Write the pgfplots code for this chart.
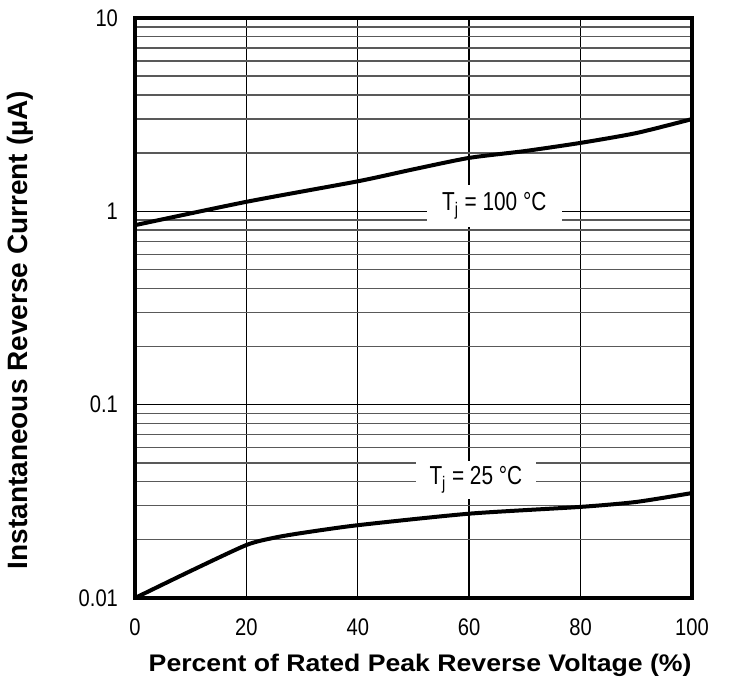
\documentclass[border=0pt]{standalone}
\usepackage{pgfplots}
\pgfplotsset{compat=1.18}
\usepackage{fontspec}
\setmainfont{Liberation Sans}
\newcommand{\nt}[1]{\scalebox{0.84}[1]{#1}}
\begin{document}
\begin{tikzpicture}
\useasboundingbox (-67.5pt,-48.5pt) rectangle (297pt,299pt);
\begin{axis}[
  at={(0,0)}, anchor=south west,
  scale only axis, width=278.5pt, height=290pt,
  xmin=0, xmax=100, ymode=log, ymin=0.01, ymax=10,
  xtick={0,20,40,60,80,100},
  xticklabels={\nt{0},\nt{20},\nt{40},\nt{60},\nt{80},\nt{100}},
  ytick={0.01,0.1,1,10},
  yticklabels={\nt{0.01},\nt{0.1},\nt{1},\nt{10}},
  major tick length=0pt, minor tick length=0pt,
  tick label style={font=\fontsize{12}{14}\selectfont},
  xticklabel style={yshift=-7pt},
  yticklabel style={xshift=-5pt},
  xmajorgrids, ymajorgrids, yminorgrids,
  major grid style={black, line width=0.7pt},
  minor grid style={black!65, line width=0.7pt},
  axis line style={line width=1.6pt},
  xlabel={\scalebox{1.11}[1]{\bfseries Percent of Rated Peak Reverse Voltage (\%)}},
  ylabel={\bfseries Instantaneous Reverse Current (µA)},
  xlabel style={font=\fontsize{12}{14}\selectfont, at={(axis description cs:0.512,-0.1155)}, anchor=center},
  ylabel style={font=\fontsize{14}{16}\selectfont, at={(axis description cs:-0.2065,0.462)}, anchor=center},
]
\node[fill=white, inner sep=0pt, minimum width=67.5pt, minimum height=21pt,
  font=\fontsize{13}{15}\selectfont] at (axis cs:64.5,1.07) {\scalebox{0.8}[1]{T\textsubscript{j} = 100 °C}};
\node[fill=white, inner sep=0pt, minimum width=59.7pt, minimum height=19pt,
  font=\fontsize{13}{15}\selectfont] at (axis cs:61.2,0.041) {\scalebox{0.8}[1]{T\textsubscript{j} = 25 °C}};
\addplot[black, line width=2pt, smooth, tension=0.4] coordinates {
 (0,0.848) (20,1.12) (40,1.43) (50,1.65) (60,1.89) (70,2.05) (80,2.26) (90,2.54) (100,3.0)};
\addplot[black, line width=2pt, smooth, tension=0.4] coordinates {
 (0,0.01) (10,0.0138) (20,0.0188) (25,0.0205) (30,0.0217) (40,0.0238) (60,0.0273) (80,0.0296) (90,0.0314) (100,0.0349)};
\end{axis}
\end{tikzpicture}
\end{document}
